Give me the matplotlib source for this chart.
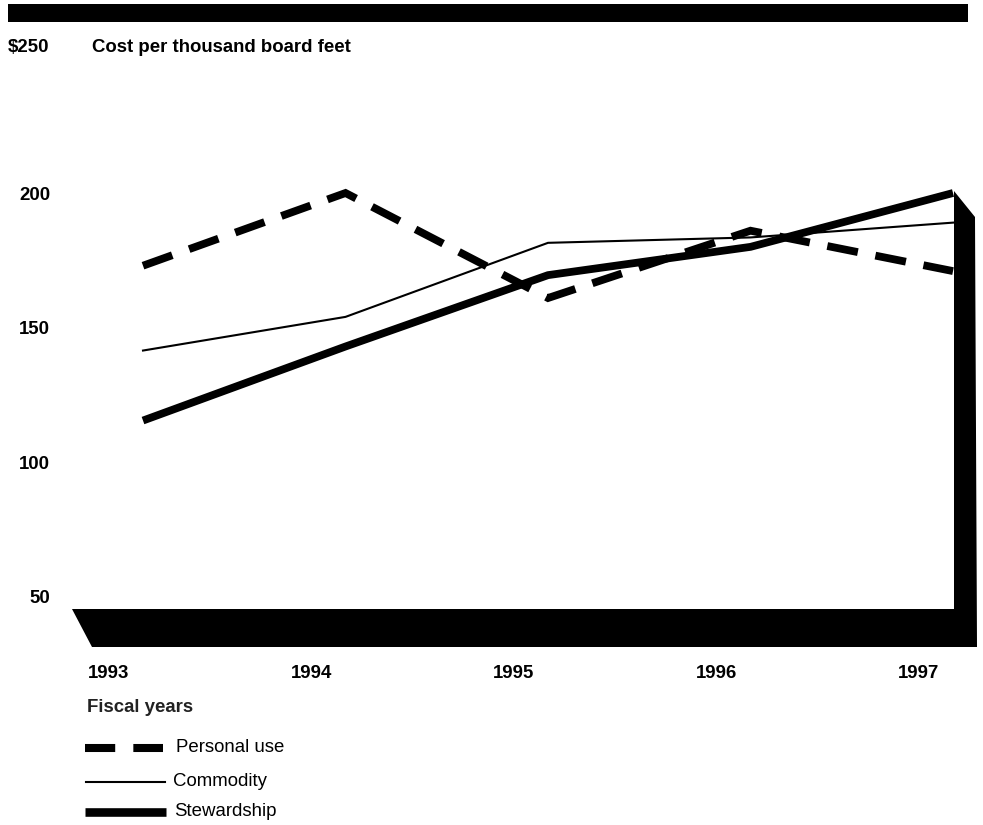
import matplotlib
matplotlib.use("Agg")
import matplotlib.pyplot as plt
from matplotlib.patches import Polygon, Rectangle
from matplotlib.lines import Line2D
from matplotlib.transforms import ScaledTranslation

plt.rcParams['font.family'] = ['Liberation Sans', 'DejaVu Sans']

# ---- data ----
years = [1993, 1994, 1995, 1996, 1997]
personal_use = [173, 200, 161, 186, 171]
commodity = [141.5, 154, 181.5, 183.5, 189]
stewardship = [115.5, 143, 169.5, 180, 200]
y_ticks = [50, 100, 150, 200]
y_tick_labels = ['50', '100', '150', '200']
x_tick_labels = ['1993', '1994', '1995', '1996', '1997']
series_names = ['Personal use', 'Commodity', 'Stewardship']

W, H = 983, 825
fig = plt.figure(figsize=(W / 100, H / 100), dpi=100)

def fx(px):
    return px / W

def fy(py):
    return 1 - py / H

FS = 13.4

# axes placed in pixel terms
left, right, top, bottom = 60, 983, 30, 650
ax = fig.add_axes([fx(left), fy(bottom), fx(right) - fx(left), fy(top) - fy(bottom)])
ax.set_xlim(1992.5901, 1997.1481)
ax.set_ylim(30.30, 260.53)
for s in ax.spines.values():
    s.set_visible(False)

# lines
ax.plot(years, commodity, color='black', lw=1.5, solid_joinstyle='miter', zorder=3)
ax.plot(years, stewardship, color='black', lw=5.6, solid_capstyle='butt',
        solid_joinstyle='round', zorder=4)
ax.plot(years, personal_use, color='black', lw=5.6, dashes=(4.0, 2.3),
        dash_capstyle='butt', dash_joinstyle='miter', zorder=2)

# ticks
ax.set_yticks(y_ticks)
ax.set_yticklabels(y_tick_labels, fontsize=FS, fontweight='bold')
ax.set_xticks(years)
ax.set_xticklabels(x_tick_labels, fontsize=FS, fontweight='bold')
ax.tick_params(axis='both', length=0)
ax.tick_params(axis='y', pad=7.0)
ax.tick_params(axis='x', pad=10.5)
shift = ScaledTranslation(-34 / 100, 0, fig.dpi_scale_trans)
for lab in ax.get_xticklabels():
    lab.set_transform(lab.get_transform() + shift)

# floor + right wall (3D frame) in figure pixel coords
frame_px = [(72, 609), (954, 609), (954, 191), (975, 217), (977, 647), (92, 647)]
fig.add_artist(Polygon([(fx(x), fy(y)) for x, y in frame_px], closed=True,
                       transform=fig.transFigure, facecolor='black',
                       edgecolor='none', zorder=5))

# top bar
fig.add_artist(Rectangle((fx(8), fy(22)), fx(968) - fx(8), fy(4) - fy(22),
                         transform=fig.transFigure, facecolor='black',
                         edgecolor='none'))

# titles
fig.text(fx(8), fy(48), '$250', fontsize=FS, fontweight='bold', va='center', ha='left')
fig.text(fx(92), fy(48), 'Cost per thousand board feet', fontsize=FS,
         fontweight='bold', va='center', ha='left')
fig.text(fx(87), fy(707), 'Fiscal years', fontsize=FS, fontweight='bold',
         va='center', ha='left', color='#222222')

# legend
leg_y = [748, 782, 812]
fig.add_artist(Line2D([fx(85), fx(163)], [fy(leg_y[0])] * 2, transform=fig.transFigure,
                      color='black', lw=5.8, dashes=(3.75, 2.25), dash_capstyle='butt'))
fig.add_artist(Line2D([fx(86), fx(165)], [fy(leg_y[1])] * 2, transform=fig.transFigure,
                      color='black', lw=1.5))
fig.add_artist(Line2D([fx(85), fx(166)], [fy(leg_y[2])] * 2, transform=fig.transFigure,
                      color='black', lw=6.2, solid_capstyle='butt'))
text_x = [176, 173, 174]
for name, tx, ty in zip(series_names, text_x, leg_y):
    fig.text(fx(tx), fy(ty), name, fontsize=FS, va='center', ha='left')

fig.savefig('out.png', dpi=100)
